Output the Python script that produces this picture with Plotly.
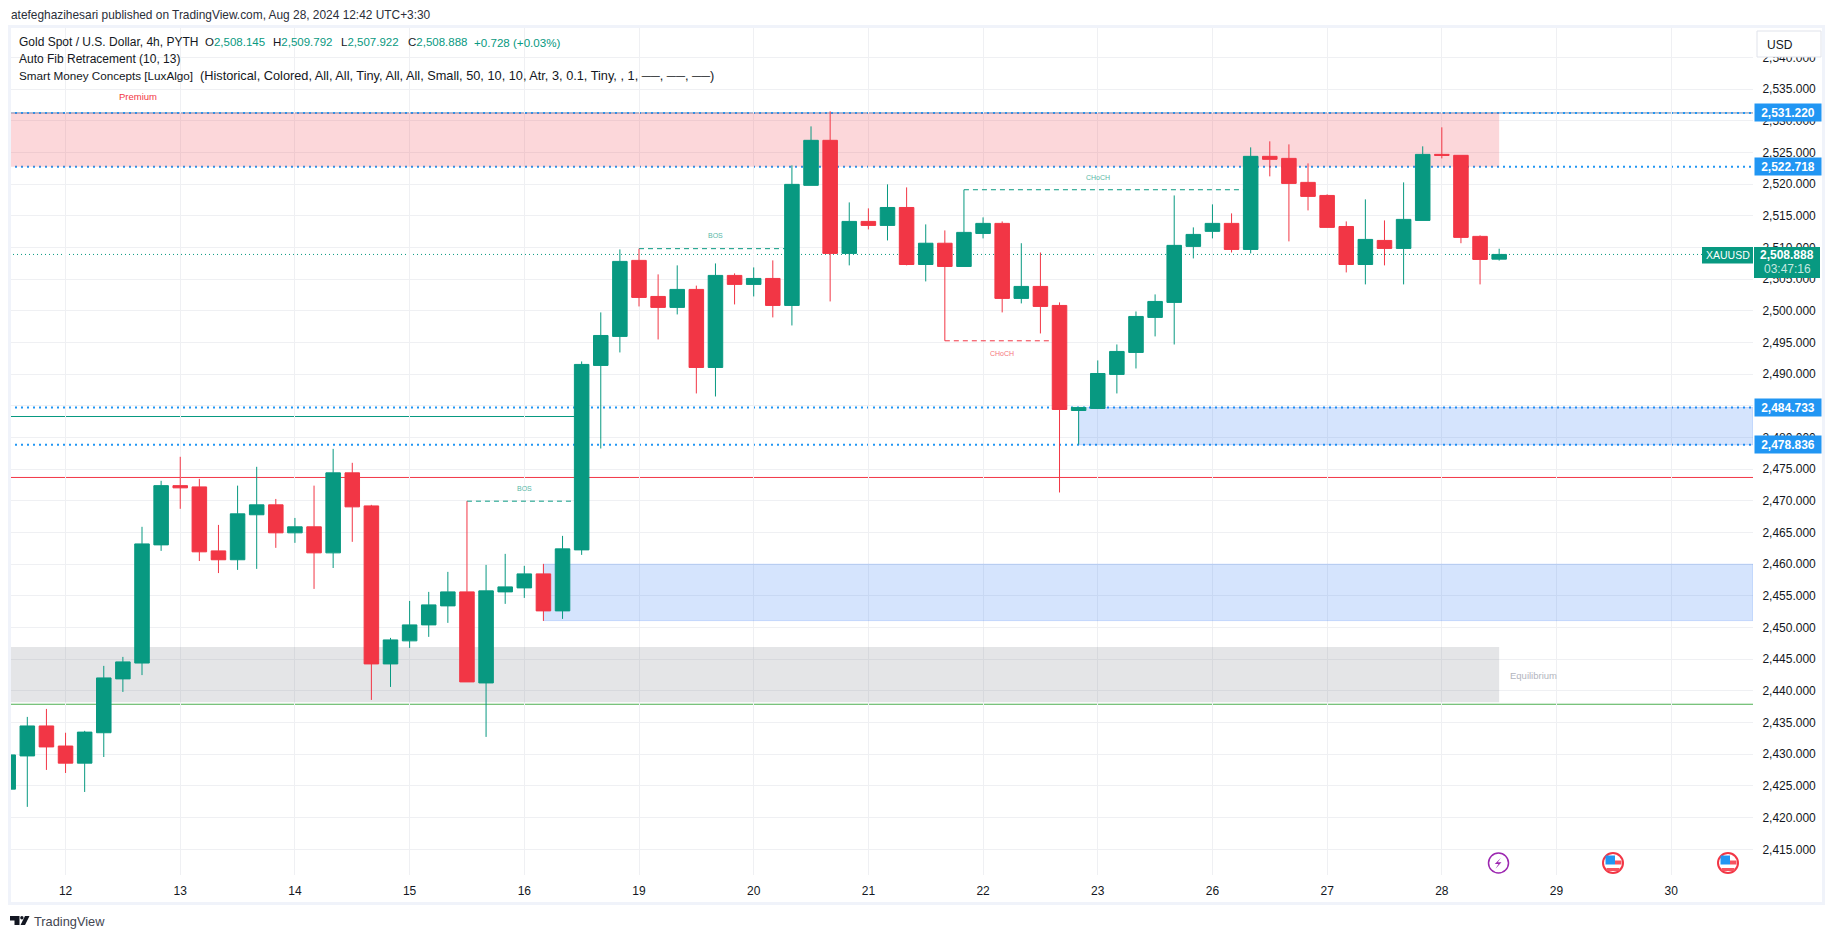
import plotly.graph_objects as go

# ---- data ----
bar_index = list(range(79))
opens = [2424.5,2429.74,2434.47,2431.3,2428.6,2433.4,2441.9,2444.4,2463.05,2472.4,
         2472.2,2462.1,2460.7,2467.8,2469.37,2464.95,2465.9,2461.79,2474.42,2469.2,
         2444.26,2447.9,2450.42,2453.42,2455.63,2441.26,2455.63,2456.26,2458.47,2452.63,
         2462.26,2491.37,2495.95,2507.95,2502.26,2500.53,2503.37,2491.05,2505.58,2504.16,
         2505.1,2500.84,2519.79,2526.9,2509.05,2514.1,2513.47,2516.3,2507.3,2510.66,
         2506.99,2512.2,2513.79,2501.95,2503.84,2500.84,2484.26,2484.58,2489.95,2493.42,
         2498.95,2501.32,2510.16,2512.53,2513.79,2509.68,2524.37,2524.05,2520.26,2518.2,
         2513.3,2507.3,2511.1,2509.84,2514.26,2524.68,2524.53,2511.74,2508.145]
highs = [2430.5,2435.9,2437.16,2433.4,2433.7,2443.95,2445.37,2465.9,2473.16,2476.95,
         2473.47,2466.2,2472.4,2475.37,2470.3,2467.3,2472.4,2478.2,2476.0,2469.37,
         2448.37,2454.2,2455.63,2458.79,2469.95,2459.89,2461.63,2459.74,2460.05,2464.47,
         2492.0,2499.74,2509.68,2509.8,2505.74,2507.16,2503.97,2507.47,2505.9,2506.84,
         2507.95,2522.95,2529.1,2531.47,2517.1,2516.16,2519.95,2519.47,2513.63,2512.68,
         2519.1,2514.74,2514.1,2510.66,2509.2,2501.32,2484.8,2492.16,2494.68,2499.89,
         2502.58,2518.2,2513.16,2516.79,2515.37,2525.79,2526.74,2526.26,2523.26,2518.37,
         2514.1,2517.58,2514.26,2520.26,2525.95,2528.95,2524.53,2511.9,2509.792]
lows = [2424.0,2421.7,2427.53,2427.05,2424.05,2429.57,2439.84,2442.5,2462.1,2468.74,
        2460.5,2458.6,2459.1,2459.26,2462.58,2463.37,2456.1,2459.4,2463.53,2438.58,
        2440.63,2446.79,2448.53,2450.74,2441.42,2432.74,2453.74,2454.68,2451.05,2451.37,
        2461.47,2478.26,2493.42,2500.68,2495.47,2499.42,2486.95,2486.47,2501.0,2502.26,
        2498.95,2497.68,2519.79,2501.47,2507.16,2512.84,2511.1,2507.16,2504.63,2495.26,
        2506.99,2511.42,2499.74,2501.16,2496.42,2471.32,2478.9,2484.58,2486.95,2490.89,
        2495.95,2494.68,2508.26,2511.42,2509.2,2509.05,2521.21,2510.95,2515.84,2513.16,
        2506.05,2504.16,2507.16,2504.16,2514.26,2524.05,2510.66,2504.16,2507.922]
closes = [2429.9,2434.47,2431.16,2428.6,2433.5,2442.05,2444.58,2463.2,2472.4,2472.05,
          2461.95,2460.7,2467.95,2469.37,2464.95,2465.9,2461.79,2474.42,2469.05,2444.26,
          2448.05,2450.42,2453.58,2455.63,2441.42,2455.79,2456.42,2458.47,2452.63,2462.42,
          2491.53,2496.1,2507.79,2502.1,2500.53,2503.37,2491.05,2505.58,2504.16,2505.1,
          2500.84,2519.95,2526.9,2509.05,2514.1,2513.47,2516.3,2507.3,2510.66,2506.99,
          2512.37,2513.79,2501.95,2503.84,2500.68,2484.42,2484.74,2490.1,2493.58,2499.1,
          2501.47,2510.32,2512.05,2513.79,2509.68,2524.37,2523.9,2520.1,2518.05,2513.16,
          2507.3,2511.26,2509.84,2514.42,2524.68,2524.53,2511.58,2508.1,2508.888]

day_ticks = [3,9,15,21,27,33,39,45,51,57,63,69,75,81,87]
day_labels = ["12","13","14","15","16","19","20","21","22","23","26","27","28","29","30"]

fib_levels = [2531.22, 2522.718, 2484.733, 2478.836]
fib_labels = ["2,531.220", "2,522.718", "2,484.733", "2,478.836"]
last_price = 2508.888
premium_zone = (2522.718, 2531.22)
equilibrium_zone = (2438.2, 2446.95)
zone_end_bar = 78
demand_zones = [(2478.84, 2484.73, 56), (2451.1, 2460.0, 28)]
strong_low = 2473.69
weak_high = 2483.31
weak_high_end_bar = 30
lower_line = 2437.9
# bar start, bar end, price, direction, label, label bar, label price
structure = [
    (24, 30, 2469.95, "up", "BOS", 27, 2472.0),
    (33, 41, 2509.8, "up", "BOS", 37, 2511.85),
    (50, 65, 2519.1, "up", "CHoCH", 57, 2521.05),
    (49, 55, 2495.26, "down", "CHoCH", 52, 2493.3),
]

UP = "#089981"
DOWN = "#f23645"
BLUE = "#2196f3"
FRAME = "#f0f3fa"
GRID = "#eff0f3"
TEXT = "#131722"
FONT = "Liberation Sans"

# ---- page geometry ----
W, H = 1835, 939
L, R, T, B = 9, 1753, 27, 875
BAR0, BARW = 8.2, 19.115
PRICE0, PXUNIT = 2535.0, 6.336
X = lambda p: (p - L) / (R - L)
Y = lambda p: (B - p) / (B - T)

shapes = []
annos = []

def band(x0, x1, y0, y1, color):
    shapes.append(dict(type="rect", layer="between", xref="x", yref="y", x0=x0, x1=x1, y0=y0, y1=y1,
                       fillcolor=color, line=dict(width=0)))

def hline(y, color, width=1, dash="solid"):
    shapes.append(dict(type="line", layer="between", xref="paper", yref="y", x0=0, x1=1, y0=y, y1=y,
                       line=dict(color=color, width=width, dash=dash)))

def label(px, py, text, size=12, color=TEXT, anchor="left", **kw):
    annos.append(dict(xref="paper", yref="paper", x=X(px), y=Y(py), text=text, showarrow=False,
                      xanchor=anchor, yanchor="middle", font=dict(size=size, color=color, family=FONT),
                      borderpad=0, **kw))

# zones
band(0, zone_end_bar, premium_zone[0], premium_zone[1], "rgba(242,54,69,0.2)")
band(0, zone_end_bar, equilibrium_zone[0], equilibrium_zone[1], "rgba(120,123,134,0.2)")
for lo, hi, start in demand_zones:
    shapes.append(dict(type="rect", layer="between", xref="x", yref="y", x0=start, x1=(R - BAR0) / BARW,
                       y0=lo, y1=hi, fillcolor="rgba(33,110,243,0.19)",
                       line=dict(width=1, color="rgba(33,110,243,0.2)")))

# levels
hline(fib_levels[0], "#6f87ad", width=1)
for lv in fib_levels:
    hline(lv, BLUE, width=2, dash="2px,4px")
hline(last_price, UP, width=1, dash="1px,3px")
hline(strong_low, DOWN, width=1)
hline(lower_line, "#4caf50", width=1.2)
shapes.append(dict(type="line", layer="between", xref="paper", yref="y", x0=0, x1=X(BAR0 + BARW * weak_high_end_bar),
                   y0=weak_high, y1=weak_high, line=dict(color=UP, width=1)))

# structure
for b0, b1, price, d, txt, lb, lp in structure:
    col = UP if d == "up" else DOWN
    shapes.append(dict(type="line", layer="between", xref="x", yref="y", x0=b0, x1=b1, y0=price, y1=price,
                       line=dict(color=col, width=1, dash="5px,4px")))
    annos.append(dict(xref="x", yref="y", x=lb, y=lp, text=txt, showarrow=False, xanchor="center",
                      yanchor="middle", opacity=0.7, font=dict(size=7, color=col, family=FONT)))

annos.append(dict(xref="x", yref="y", x=6.8, y=2533.85, text="Premium", showarrow=False, xanchor="center",
                  yanchor="middle", font=dict(size=9.5, color=DOWN, family=FONT)))
annos.append(dict(xref="x", yref="y", x=79.8, y=2442.5, text="Equilibrium", showarrow=False, xanchor="center",
                  yanchor="middle", font=dict(size=9.5, color="#b2b5be", family=FONT)))

# frame around chart
for x0, x1, y0, y1 in [(8, 1825, 25, 28), (8, 1825, 902, 905), (8, 11, 25, 905), (1822, 1825, 25, 905)]:
    shapes.append(dict(type="rect", layer="above", xref="paper", yref="paper", x0=X(x0), x1=X(x1),
                       y0=Y(y0), y1=Y(y1), fillcolor=FRAME, line=dict(width=0)))

# USD button
shapes.append(dict(type="rect", layer="above", xref="paper", yref="paper", x0=X(1757), x1=X(1821), y0=Y(31), y1=Y(57),
                   fillcolor="white", line=dict(width=1, color="#e0e3eb")))
label(1766, 44.5, "USD", size=12)

# header and legend
label(10, 15, "atefeghazihesari published on TradingView.com, Aug 28, 2024 12:42 UTC+3:30", size=11.9, color="#2a2e39")
label(18, 42, "Gold Spot / U.S. Dollar, 4h, PYTH", size=12)
for px, letter, val in [(204, "O", "2,508.145"), (272, "H", "2,509.792"), (340, "L", "2,507.922"), (407, "C", "2,508.888")]:
    label(px, 42, f'{letter}<span style="color:{UP}">{val}</span>', size=11.5)
label(473, 42, "+0.728 (+0.03%)", size=11.6, color=UP)
label(18, 59, "Auto Fib Retracement (10, 13)", size=12)
label(18, 76, "Smart Money Concepts [LuxAlgo]", size=11.7)
label(199, 76, "(Historical, Colored, All, All, Tiny, All, All, Small, 50, 10, 10, Atr, 3, 0.1, Tiny, , 1, ──, ──, ──)", size=12.75)

# price tags
for lv, txt in zip(fib_levels, fib_labels):
    annos.append(dict(xref="paper", yref="y", x=X(1754), y=lv, text=f"<b>{txt}</b>", showarrow=False,
                      xanchor="left", yanchor="middle", width=66, height=17, bgcolor=BLUE,
                      font=dict(size=12, color="white", family=FONT), borderpad=0))
shapes.append(dict(type="rect", layer="above", xref="paper", yref="paper", x0=X(1754), x1=X(1820), y0=Y(247), y1=Y(278),
                   fillcolor=UP, line=dict(width=0)))
label(1787, 255, "<b>2,508.888</b>", size=12, color="white", anchor="center")
label(1787, 269, "03:47:16", size=12, color="#c5e8e0", anchor="center")
shapes.append(dict(type="rect", layer="above", xref="paper", yref="paper", x0=X(1702), x1=X(1753), y0=Y(247), y1=Y(263.5),
                   fillcolor=UP, line=dict(width=0)))
label(1727.5, 255.5, "XAUUSD", size=10.5, color="white", anchor="center")

# event icons
shapes.append(dict(type="circle", layer="above", xref="paper", yref="paper", x0=X(1488.5), x1=X(1508.5), y0=Y(853), y1=Y(873),
                   fillcolor="white", line=dict(width=1.5, color="#9c27b0")))
bolt = [(2.3, -5), (-3.7, 1), (0, 1), (-3, 5.7), (3, -0.7), (-0.7, -0.7)]
bolt_path = "M" + " L".join(f"{X(1498.5 + dx)},{Y(863 + dy)}" for dx, dy in bolt) + " Z"
shapes.append(dict(type="path", layer="above", xref="paper", yref="paper", path=bolt_path,
                   fillcolor="#9c27b0", line=dict(width=0)))
for cx in (1613, 1728):
    shapes.append(dict(type="circle", layer="above", xref="paper", yref="paper", x0=X(cx - 10), x1=X(cx + 10), y0=Y(853), y1=Y(873),
                       fillcolor="white", line=dict(width=2, color=DOWN)))
    for x0, x1, y0, y1, c in [(cx - 7.5, cx + 2, 855.5, 864.5, BLUE), (cx + 2, cx + 8.5, 860.5, 864.5, "#f7525f"),
                              (cx - 6.5, cx + 6.5, 868, 871, "#f7525f")]:
        shapes.append(dict(type="rect", layer="above", xref="paper", yref="paper", x0=X(x0), x1=X(x1), y0=Y(y0), y1=Y(y1),
                           fillcolor=c, line=dict(width=0)))

# logo
logo = (f"M{X(10)},{Y(916)} L{X(19.5)},{Y(916)} L{X(19.5)},{Y(925)} L{X(14.5)},{Y(925)} L{X(14.5)},{Y(920.5)} L{X(10)},{Y(920.5)} Z "
        f"M{X(25)},{Y(916)} L{X(29.5)},{Y(916)} L{X(25)},{Y(925)} L{X(20.5)},{Y(925)} Z")
shapes.append(dict(type="path", layer="above", xref="paper", yref="paper", path=logo, fillcolor="#131722", line=dict(width=0)))
shapes.append(dict(type="circle", layer="above", xref="paper", yref="paper", x0=X(20.2), x1=X(23.6), y0=Y(916), y1=Y(919.4),
                   fillcolor="#131722", line=dict(width=0)))
label(33, 921, "TradingView", size=12.8, color="#434651")

fig = go.Figure(go.Candlestick(
    x=bar_index, open=opens, high=highs, low=lows, close=closes,
    increasing=dict(line=dict(color=UP, width=1), fillcolor=UP),
    decreasing=dict(line=dict(color=DOWN, width=1), fillcolor=DOWN),
    whiskerwidth=0, hoverinfo="skip",
))

fig.update_layout(
    width=W, height=H, autosize=False,
    margin=dict(l=L, r=W - R, t=T, b=H - B, pad=0),
    paper_bgcolor="white", plot_bgcolor="white",
    showlegend=False, boxgap=0.24, boxgroupgap=0,
    font=dict(family=FONT, size=12, color=TEXT),
    shapes=shapes, annotations=annos,
    xaxis=dict(
        rangeslider=dict(visible=False), range=[(L - BAR0) / BARW, (R - BAR0) / BARW],
        tickmode="array", tickvals=day_ticks, ticktext=day_labels,
        showgrid=True, gridcolor=GRID, gridwidth=1, zeroline=False, showline=False,
        ticks="outside", ticklen=5, tickcolor="rgba(0,0,0,0)", tickfont=dict(size=12, color=TEXT, family=FONT),
    ),
    yaxis=dict(
        side="right", range=[PRICE0 - (B - 89) / PXUNIT, PRICE0 + (89 - T) / PXUNIT],
        tick0=2415, dtick=5, tickformat=",.3f",
        showgrid=True, gridcolor=GRID, gridwidth=1, zeroline=False, showline=False,
        ticks="outside", ticklen=6, tickcolor="rgba(0,0,0,0)", tickfont=dict(size=12, color=TEXT, family=FONT),
    ),
)

fig.write_html("out.html", config=dict(displayModeBar=False),
               post_script="document.body.style.margin='0';document.documentElement.style.overflow='hidden';")
